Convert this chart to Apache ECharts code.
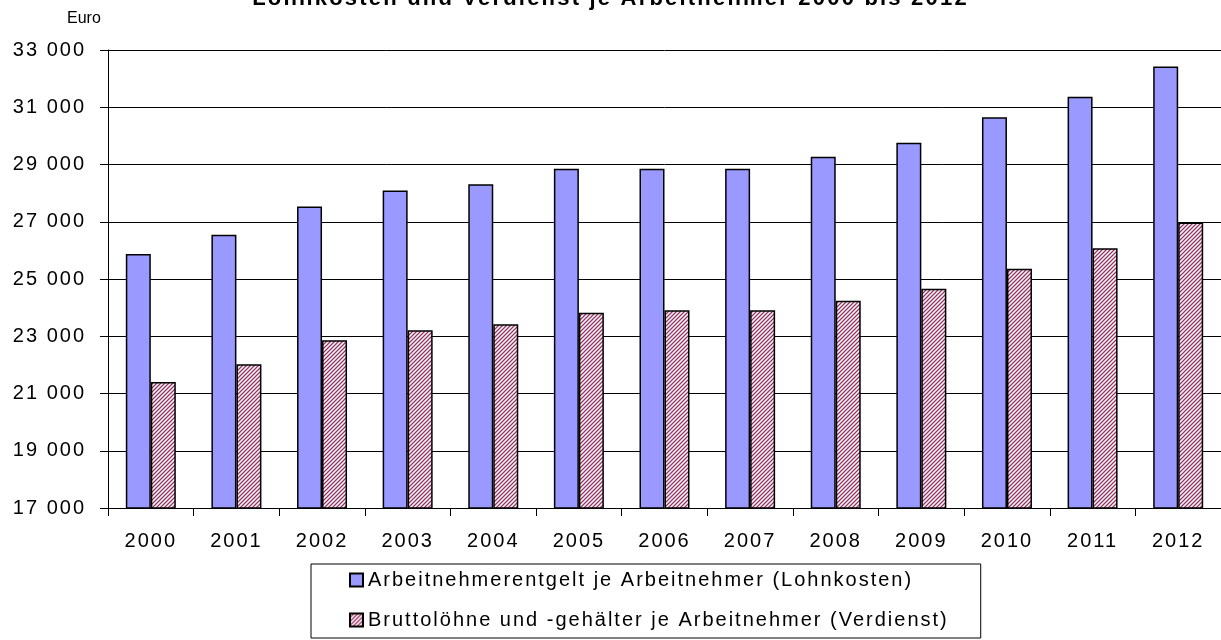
<!DOCTYPE html>
<html>
<head>
<meta charset="utf-8">
<script src="https://cdn.jsdelivr.net/npm/echarts@6/dist/echarts.min.js"></script>
<style>
html,body{margin:0;padding:0;background:#fff;}
#chart{width:1221px;height:640px;}
</style>
</head>
<body>
<div id="chart"></div>
<script>
const categories = ['2000','2001','2002','2003','2004','2005','2006','2007','2008','2009','2010','2011','2012'];
const lohnkosten = [25870, 26550, 27530, 28090, 28310, 28850, 28850, 28850, 29270, 29760, 30650, 31370, 32420];
const verdienst = [21400, 22020, 22860, 23210, 23420, 23820, 23910, 23910, 24240, 24660, 25360, 26070, 26970];
const seriesNames = ['Arbeitnehmerentgelt je Arbeitnehmer (Lohnkosten)', 'Bruttolöhne und -gehälter je Arbeitnehmer (Verdienst)'];
const titleText = 'Lohnkosten und Verdienst je Arbeitnehmer 2000 bis 2012';
const unitText = 'Euro';

// widen text tracking to match the reference rendering
(function () {
  const proto = CanvasRenderingContext2D.prototype;
  const desc = Object.getOwnPropertyDescriptor(proto, 'font');
  if (!desc || !('letterSpacing' in proto)) return;
  Object.defineProperty(proto, 'font', {
    configurable: true,
    get() { return desc.get.call(this); },
    set(v) {
      desc.set.call(this, v);
      const m = /(\d+(?:\.\d+)?)px/.exec(v);
      const size = m ? parseFloat(m[1]) : 12;
      this.letterSpacing = size >= 18 ? (size * 0.1).toFixed(1) + 'px' : '0px';
    }
  });
})();

function makeHatch() {
  const c = document.createElement('canvas');
  c.width = 4; c.height = 4;
  const ctx = c.getContext('2d');
  ctx.fillStyle = '#ffffff';
  ctx.fillRect(0, 0, 4, 4);
  ctx.strokeStyle = '#993366';
  ctx.lineWidth = 1.3;
  ctx.beginPath();
  ctx.moveTo(-1, 5); ctx.lineTo(5, -1);
  ctx.moveTo(-1, 1); ctx.lineTo(1, -1);
  ctx.moveTo(3, 5); ctx.lineTo(5, 3);
  ctx.stroke();
  return c;
}
const hatch = makeHatch();
const FONT = 'Liberation Sans, Arial, sans-serif';

const chart = echarts.init(document.getElementById('chart'), null, {renderer: 'canvas'});
chart.setOption({
  animation: false,
  backgroundColor: '#ffffff',
  title: {
    text: titleText,
    left: 'center',
    top: -18,
    textStyle: {fontFamily: FONT, fontSize: 22, fontWeight: 'bold', color: '#000'}
  },
  graphic: [{
    type: 'text', left: 67, top: 11,
    style: {text: unitText, font: '16px ' + FONT, fill: '#000'}
  }],
  grid: {left: 108, top: 50, width: 1118, height: 458, containLabel: false},
  xAxis: {
    type: 'category',
    data: categories,
    boundaryGap: true,
    axisLine: {lineStyle: {color: '#000', width: 1}},
    axisTick: {show: true, length: 8, lineStyle: {color: '#000'}},
    axisLabel: {color: '#000', fontFamily: FONT, fontSize: 20, margin: 22}
  },
  yAxis: {
    type: 'value',
    min: 17000, max: 33000, interval: 2000,
    axisLine: {show: true, lineStyle: {color: '#000', width: 1}},
    axisTick: {show: true, length: 8, lineStyle: {color: '#000'}},
    splitLine: {show: true, lineStyle: {color: '#000', width: 1}},
    axisLabel: {
      color: '#000', fontFamily: FONT, fontSize: 20, margin: 22,
      formatter: v => String(v).replace(/\B(?=(\d{3})+(?!\d))/g, ' ')
    }
  },
  legend: {
    orient: 'vertical',
    left: 311, top: 564,
    height: 62,
    padding: [5, 32, 7, 38],
    itemGap: 18,
    itemWidth: 13, itemHeight: 13,
    icon: 'rect',
    borderColor: '#000', borderWidth: 1,
    textStyle: {fontFamily: FONT, fontSize: 20, color: '#000'},
    data: seriesNames
  },
  series: [{
    name: seriesNames[0],
    type: 'bar',
    data: lohnkosten,
    barWidth: 25,
    barGap: '0%',
    itemStyle: {color: '#9999ff', borderColor: '#000', borderWidth: 1.5}
  }, {
    name: seriesNames[1],
    type: 'bar',
    data: verdienst,
    barWidth: 25,
    barGap: '0%',
    itemStyle: {color: {image: hatch, repeat: 'repeat'}, borderColor: '#000', borderWidth: 1.5}
  }]
});
</script>
</body>
</html>
